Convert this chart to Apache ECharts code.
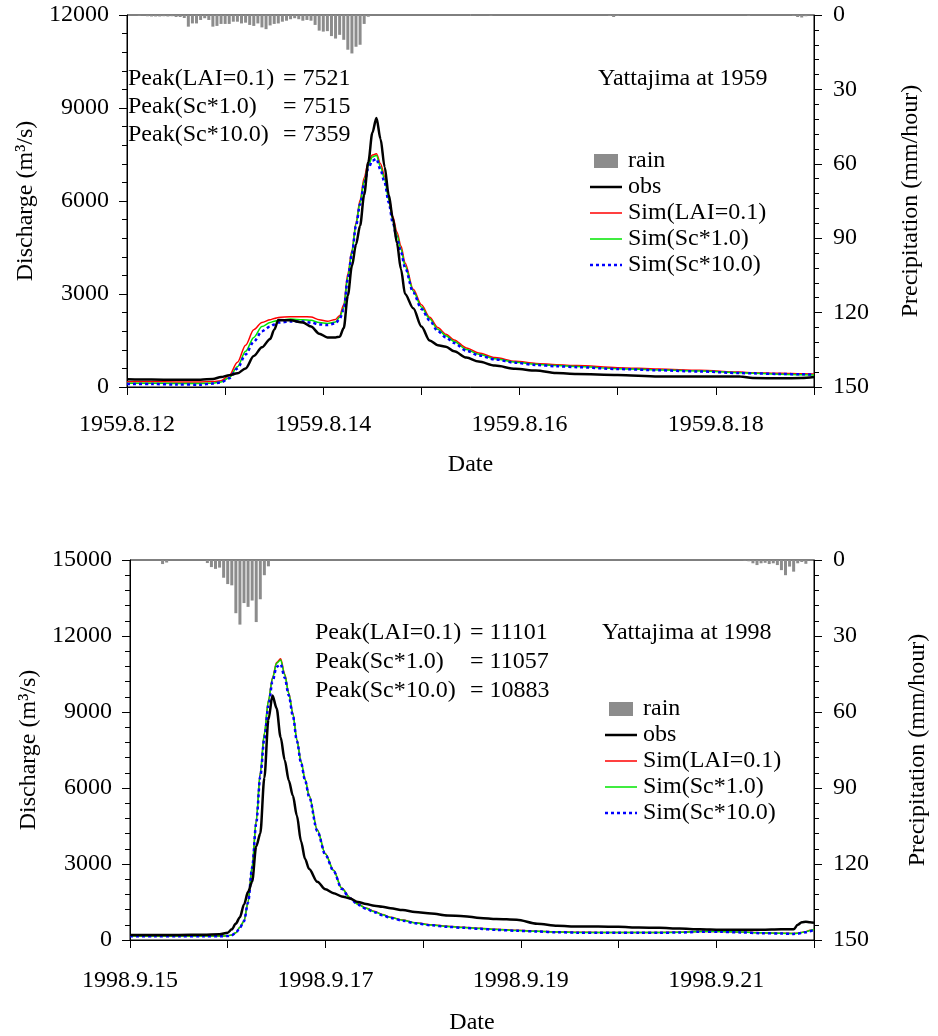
<!DOCTYPE html>
<html><head><meta charset="utf-8">
<script src="https://cdn.jsdelivr.net/npm/echarts/dist/echarts.min.js"></script>
<style>html,body{margin:0;padding:0;background:#fff}#c{width:938px;height:1036px}</style>
</head><body><div id="c"></div>
<script>
// ---------- Tick labels ----------
const dateLabels1 = ['1959.8.12','1959.8.14','1959.8.16','1959.8.18'];
const dateLabels2 = ['1998.9.15','1998.9.17','1998.9.19','1998.9.21'];
const legendNames = ['rain','obs','Sim(LAI=0.1)','Sim(Sc*1.0)','Sim(Sc*10.0)'];

// ---------- 1959 event (hours from 1959.8.12 00:00) ----------
const hours1 = [0,6,12,18,21,23,25,27,29,31,33,35,36,37,40,43,45,47,49,51,52,53,54,55,56,57,58,59,60,61,62,63,64,65,66,67,68,70,72,74,76,78,80,83,86,90,95,100,105,110,120,130,140,150,153,160,165,168];
const obs1  = [250,240,230,235,260,320,380,440,600,1000,1280,1550,1850,2160,2150,2080,1950,1720,1600,1600,1620,1900,2950,3900,4600,5200,6200,7250,8200,8680,8000,7100,6200,5450,4650,3800,3000,2540,1950,1500,1350,1300,1150,950,820,690,590,530,450,420,390,340,340,335,290,280,290,320];
const lai1  = [170,170,165,165,175,200,370,800,1350,1850,2080,2170,2210,2240,2270,2270,2260,2170,2120,2180,2300,2650,3650,4400,5300,6030,6750,7250,7480,7521,7200,6800,6150,5500,5000,4550,4000,3150,2650,2250,1920,1700,1520,1260,1100,950,830,760,720,690,625,580,540,480,460,440,425,420];
const sc1_1 = [120,120,115,115,125,160,300,650,1150,1600,1950,2080,2120,2150,2190,2170,2150,2080,2050,2100,2250,2550,3550,4350,5250,5950,6650,7150,7420,7470,7100,6700,6050,5400,4900,4450,3900,3100,2580,2200,1860,1650,1470,1210,1060,910,800,730,690,660,590,550,520,460,440,410,395,390];
const sc10_1= [100,95,80,75,110,150,280,600,1050,1460,1800,1950,2020,2080,2110,2110,2080,2020,2000,2050,2200,2500,3500,4300,5200,5900,6550,7050,7300,7359,7000,6600,5950,5300,4800,4350,3850,3050,2520,2150,1800,1600,1420,1170,1020,890,780,710,670,640,580,540,500,450,440,420,410,400];
const rainHours1 = [3,5,6,7,8,9,10,11,12,13,14,15,16,17,18,19,20,21,22,23,24,25,26,27,28,29,30,31,32,33,34,35,36,37,38,39,40,41,42,43,44,45,46,47,48,49,50,51,52,53,54,55,56,57,58,59,89,118,119,120,152,163,164,165,166];
const rain1 = [0.3,0.5,0.6,0.6,0.6,0.5,0.6,0.5,0.8,0.8,1.2,4.7,3.4,3.4,2.0,1.3,2.0,4.7,4.4,3.6,3.6,3.6,2.7,2.7,3.4,3.1,4.0,4.4,3.4,5.0,5.7,4.2,3.6,3.4,2.7,2.3,1.7,1.3,1.7,2.3,2.0,2.3,4.0,6.3,6.7,6.5,8.5,9.5,8.0,10.0,14.0,15.5,12.8,12.0,3.6,0.7,0.4,0.4,0.8,0.4,0.4,0.4,0.8,1.0,0.5];

// ---------- 1998 event (hours from 1998.9.15 00:00) ----------
const hours2 = [0,6,12,18,22,24,25,26,27,28,29,30,31,32,33,34,35,36,37,38,39,40,41,42,43,44,46,48,50,52,54,56,58,60,62,64,67,70,74,78,82,86,90,95,100,105,110,115,120,125,130,135,140,145,150,155,160,163,164,165,166,167,168];
const obs2  = [200,200,200,210,225,290,420,650,900,1400,1900,2300,3700,4200,6400,8700,9650,9150,8000,7100,6300,5700,4900,3900,3200,2800,2300,2000,1850,1720,1640,1500,1420,1350,1310,1250,1180,1110,1050,970,940,870,830,800,640,560,530,530,520,490,480,450,420,400,400,400,420,420,600,700,720,700,680];
const lai2  = [160,160,160,160,160,165,200,290,500,750,1500,2900,4700,6600,8150,9450,10350,10950,11101,10500,9750,8950,7900,7050,6350,5700,4350,3400,2750,2050,1680,1420,1260,1130,1010,900,790,680,600,540,500,460,420,380,350,320,305,300,300,300,300,310,340,340,320,290,270,260,270,300,330,380,420];
const sc1_2 = [160,160,160,160,160,165,200,290,500,750,1500,2900,4700,6600,8150,9450,10330,10920,11057,10470,9730,8930,7890,7040,6340,5690,4340,3390,2740,2040,1670,1410,1250,1120,1000,890,780,675,595,535,495,455,415,375,345,315,300,295,295,295,295,305,335,335,315,285,265,255,265,295,325,375,415];
const sc10_2= [150,150,150,150,150,155,190,280,490,740,1480,2850,4600,6450,7950,9250,10200,10780,10883,10350,9650,8850,7850,7000,6300,5650,4300,3360,2720,2020,1650,1390,1230,1100,980,870,760,660,580,520,480,440,400,365,335,305,290,285,285,285,285,295,325,325,300,270,255,240,250,280,310,350,400];
const rainHours2 = [8,9,19,20,21,22,23,24,25,26,27,28,29,30,31,32,33,34,151,152,153,154,155,156,157,158,159,160,161,162,163,164,165,166];
const rain2 = [1.6,1.0,1.2,2.8,3.5,3.0,7.0,9.5,10.0,21.0,25.5,17.0,18.5,16.0,24.5,15.5,6.0,2.5,0.3,0.5,1.3,2.0,1.3,1.1,1.6,1.3,2.0,4.0,6.0,2.6,4.6,1.3,0.8,1.5];

// ---------- styling ----------
const FONT = 'Liberation Serif';
const FS = 24;
const COLORS = {rain: '#8c8c8c', obs: '#000000', lai: '#ff0000', sc1: '#00e600', sc10: '#0000ff'};
const pairs = (xs, ys) => xs.map((x, i) => [x, ys[i]]);
const txt = {fontFamily: FONT, fontSize: FS, color: '#000'};

function xAxisCfg(grid, labels, nameGap, margin) {
  return {
    gridIndex: grid, type: 'value', min: 0, max: 168, interval: 24,
    name: 'Date', nameLocation: 'middle', nameGap: nameGap, nameTextStyle: txt,
    axisLine: {lineStyle: {color: '#000', width: 1}},
    axisTick: {show: true, inside: false, length: 8, lineStyle: {color: '#000'}},
    axisLabel: Object.assign({margin: margin, formatter: v => (v % 48 === 0 ? labels[v / 48] : '')}, txt),
    splitLine: {show: false}
  };
}
function leftAxis(grid, max, nameGap) {
  return {
    gridIndex: grid, type: 'value', min: 0, max: max, interval: 3000, position: 'left',
    name: 'Discharge (m³/s)', nameLocation: 'middle', nameGap: nameGap, nameRotate: 90, nameTextStyle: txt,
    axisLine: {show: true, lineStyle: {color: '#000'}},
    axisTick: {show: true, length: 8, lineStyle: {color: '#000'}},
    minorTick: {show: true, splitNumber: 5, length: 5, lineStyle: {color: '#000'}},
    axisLabel: Object.assign({margin: 18, formatter: v => String(v)}, txt),
    splitLine: {show: false}
  };
}
function rightAxis(grid, nameGap) {
  return {
    gridIndex: grid, type: 'value', min: 0, max: 150, interval: 30, position: 'right', inverse: true,
    name: 'Precipitation (mm/hour)', nameLocation: 'middle', nameGap: nameGap, nameRotate: 90, nameTextStyle: txt,
    axisLine: {show: true, lineStyle: {color: '#000'}},
    axisTick: {show: true, length: 8, lineStyle: {color: '#000'}},
    minorTick: {show: true, splitNumber: 5, length: 5, lineStyle: {color: '#000'}},
    axisLabel: Object.assign({margin: 19, formatter: v => String(v)}, txt),
    splitLine: {show: false}
  };
}
function lineSeries(name, xi, yi, xs, ys, color, width, type, z) {
  return {
    name: name, type: 'line', xAxisIndex: xi, yAxisIndex: yi, data: pairs(xs, ys),
    symbol: 'none', smooth: 0.3, smoothMonotone: 'x', z: z,
    lineStyle: {color: color, width: width, type: type}, itemStyle: {color: color}
  };
}
function rainSeries(xi, yi, xs, ys) {
  return {
    name: 'rain', type: 'bar', xAxisIndex: xi, yAxisIndex: yi, data: pairs(xs, ys),
    barWidth: 3, itemStyle: {color: COLORS.rain}, z: 1
  };
}
// legend drawn as graphic elements (line samples incl. the dotted one)
function legendGraphics(x, y0, step) {
  const styles = [
    null,
    {stroke: COLORS.obs, lineWidth: 2.5},
    {stroke: COLORS.lai, lineWidth: 1.5},
    {stroke: COLORS.sc1, lineWidth: 1.5},
    {stroke: COLORS.sc10, lineWidth: 2.5, lineDash: [3, 3]}
  ];
  const els = [];
  legendNames.forEach((n, i) => {
    const y = y0 + i * step;
    if (i === 0) {
      els.push({type: 'rect', shape: {x: x + 4, y: y - 7, width: 24, height: 14}, style: {fill: COLORS.rain}});
    } else {
      els.push({type: 'line', shape: {x1: x, y1: y, x2: x + 32, y2: y}, style: styles[i]});
    }
    els.push({type: 'text', x: x + 38, y: y, style: {text: n, font: FS + 'px "Liberation Serif"', fill: '#000', verticalAlign: 'middle'}});
  });
  return els;
}
function label(text, x, y) {
  return {type: 'text', x: x, y: y, style: {text: text, font: FS + 'px "Liberation Serif"', fill: '#000', verticalAlign: 'middle'}};
}

const chart = echarts.init(document.getElementById('c'), null, {renderer: 'canvas'});
chart.setOption({
  animation: false,
  backgroundColor: '#fff',
  grid: [
    {left: 127, top: 15, width: 687, height: 372, show: true, borderColor: '#000', borderWidth: 1, backgroundColor: 'transparent'},
    {left: 130, top: 560, width: 697, height: 380, show: true, borderColor: '#000', borderWidth: 1, backgroundColor: 'transparent'}
  ],
  xAxis: [xAxisCfg(0, dateLabels1, 66, 26), xAxisCfg(1, dateLabels2, 71, 29)],
  yAxis: [leftAxis(0, 12000, 86), rightAxis(0, 85), leftAxis(1, 15000, 88), rightAxis(1, 92)],
  series: [
    rainSeries(0, 1, rainHours1, rain1),
    lineSeries('Sim(LAI=0.1)', 0, 0, hours1, lai1, COLORS.lai, 1.5, 'solid', 3),
    lineSeries('Sim(Sc*1.0)', 0, 0, hours1, sc1_1, COLORS.sc1, 1.5, 'solid', 4),
    lineSeries('Sim(Sc*10.0)', 0, 0, hours1, sc10_1, COLORS.sc10, 2.5, [3, 3], 5),
    lineSeries('obs', 0, 0, hours1, obs1, COLORS.obs, 2.5, 'solid', 6),
    rainSeries(1, 3, rainHours2, rain2),
    lineSeries('Sim(LAI=0.1)', 1, 2, hours2, lai2, COLORS.lai, 1.5, 'solid', 3),
    lineSeries('Sim(Sc*1.0)', 1, 2, hours2, sc1_2, COLORS.sc1, 1.5, 'solid', 4),
    lineSeries('Sim(Sc*10.0)', 1, 2, hours2, sc10_2, COLORS.sc10, 2.5, [3, 3], 5),
    lineSeries('obs', 1, 2, hours2, obs2, COLORS.obs, 2.5, 'solid', 6)
  ],
  graphic: [].concat(
    legendGraphics(590, 161, 26),
    legendGraphics(605, 709, 26),
    [
      label('Peak(LAI=0.1)', 128, 79), label('= 7521', 283, 79),
      label('Peak(Sc*1.0)', 128, 107), label('= 7515', 283, 107),
      label('Peak(Sc*10.0)', 128, 135), label('= 7359', 283, 135),
      label('Yattajima at 1959', 598, 79),
      label('Peak(LAI=0.1)', 315, 633), label('= 11101', 470, 633),
      label('Peak(Sc*1.0)', 315, 662), label('= 11057', 470, 662),
      label('Peak(Sc*10.0)', 315, 691), label('= 10883', 470, 691),
      label('Yattajima at 1998', 602, 633)
    ]
  )
});
</script></body></html>
